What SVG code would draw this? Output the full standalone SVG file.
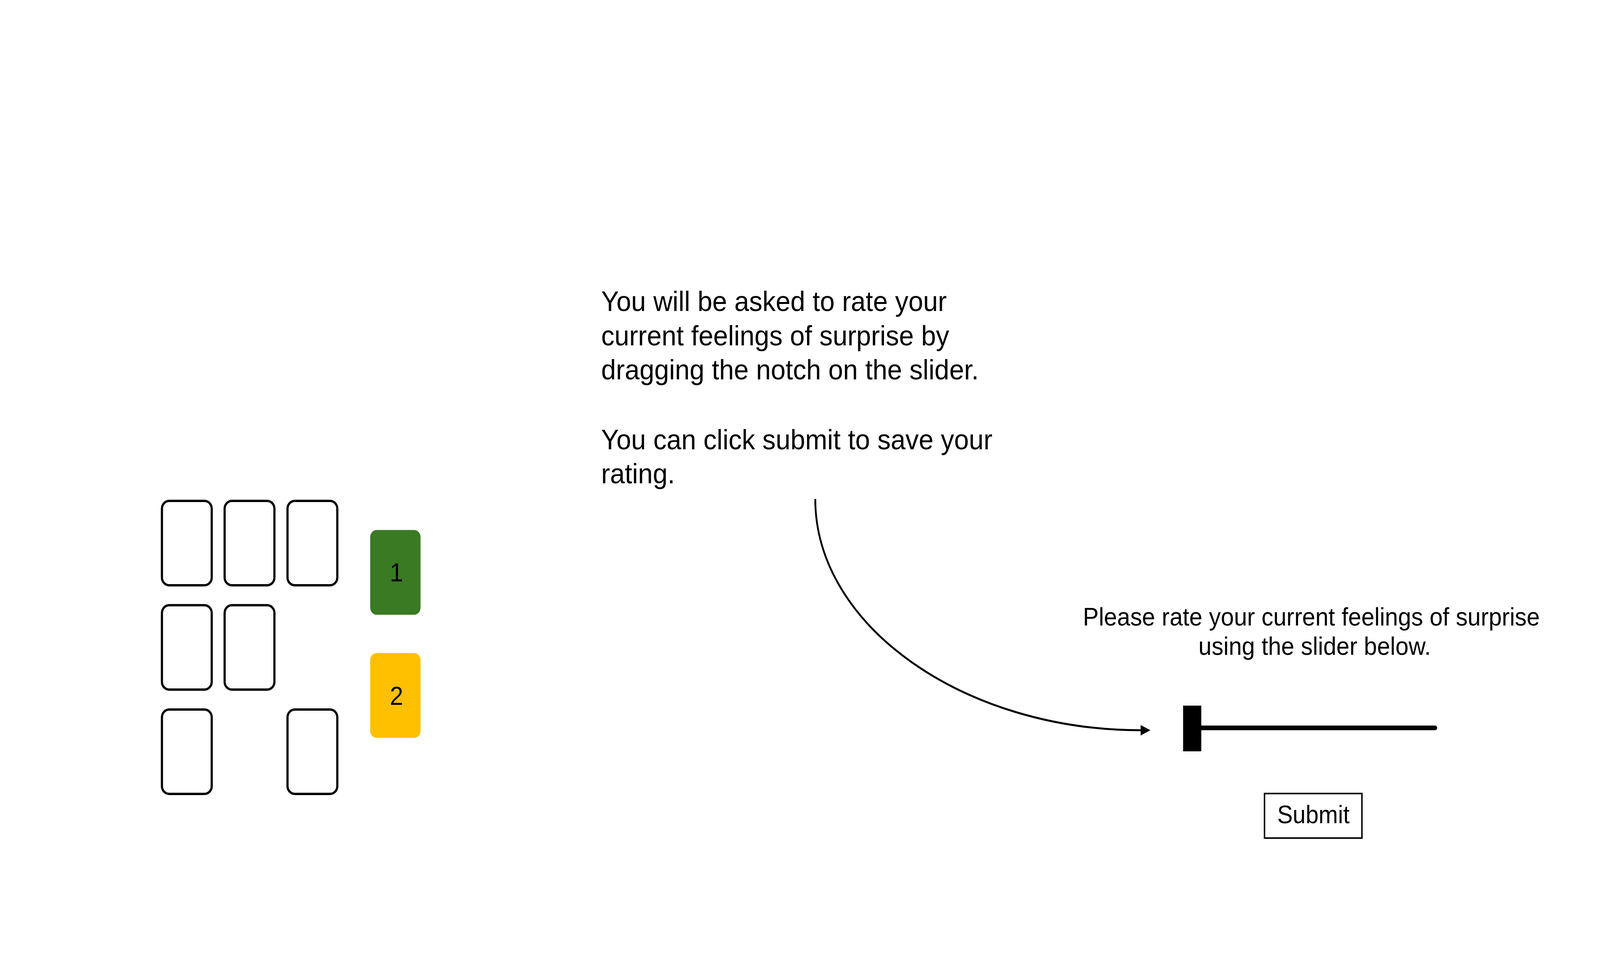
<svg xmlns="http://www.w3.org/2000/svg" width="4402" height="2475" viewBox="0 0 4402 2475" preserveAspectRatio="none" style="display:block;width:100vw;height:100vh">
  <style>
    .card { fill: #ffffff; stroke: #000000; stroke-width: 6; }
    .txt { font-family: "Liberation Sans", Arial, sans-serif; fill: #000000; }
    .main { font-size: 73px; }
    .num { font-size: 66px; text-anchor: middle; }
    .prompt { font-size: 65px; text-anchor: middle; }
    .btn { font-size: 64px; text-anchor: middle; }
    .conn { fill: none; stroke: #000000; stroke-width: 5; }
  </style>
  <defs>
    <marker id="arrow" markerUnits="userSpaceOnUse" markerWidth="28" markerHeight="28" refX="0" refY="13.5" orient="auto">
      <path d="M0,0 L27,13.5 L0,27 z" fill="#000000"/>
    </marker>
  </defs>
  <rect x="0" y="0" width="4402" height="2475" fill="#ffffff"/>

  <g id="cards">
    <rect id="card-r1c1" class="card" x="445.5" y="1282" width="137" height="216" rx="20"/>
    <rect id="card-r1c2" class="card" x="618" y="1282" width="137" height="216" rx="20"/>
    <rect id="card-r1c3" class="card" x="791" y="1282" width="137" height="216" rx="20"/>
    <rect id="card-r2c1" class="card" x="445.5" y="1549" width="137" height="216" rx="20"/>
    <rect id="card-r2c2" class="card" x="618" y="1549" width="137" height="216" rx="20"/>
    <rect id="card-r3c1" class="card" x="445.5" y="1816" width="137" height="216" rx="20"/>
    <rect id="card-r3c3" class="card" x="791" y="1816" width="137" height="216" rx="20"/>
  </g>

  <g id="card-1">
    <rect x="1018.5" y="1356.5" width="138.5" height="217" rx="18" fill="#3a7a22"/>
    <text class="txt num" x="1091" y="1488">1</text>
  </g>
  <g id="card-2">
    <rect x="1018.5" y="1671.5" width="138.5" height="217" rx="18" fill="#ffc000"/>
    <text class="txt num" x="1091" y="1804">2</text>
  </g>

  <g id="instructions">
    <text class="txt main">
      <tspan x="1654" y="796">You will be asked to rate your</tspan>
      <tspan x="1654" y="884">current feelings of surprise by</tspan>
      <tspan x="1654" y="971">dragging the notch on the slider.</tspan>
      <tspan x="1654" y="1150">You can click submit to save your</tspan>
      <tspan x="1654" y="1237">rating.</tspan>
    </text>
  </g>

  <g id="prompt">
    <text class="txt prompt">
      <tspan x="3617" y="1601">Please rate your current feelings of surprise</tspan>
      <tspan x="3617" y="1676">using the slider below.</tspan>
    </text>
  </g>

  <g id="slider">
    <line x1="3300" y1="1863" x2="3948" y2="1863" stroke="#000000" stroke-width="12" stroke-linecap="round"/>
    <rect x="3255" y="1806" width="50" height="117" fill="#000000"/>
  </g>

  <g id="submit">
    <rect x="3479" y="2031" width="268" height="114" fill="#ffffff" stroke="#000000" stroke-width="4"/>
    <text class="txt btn" x="3613.5" y="2107">Submit</text>
  </g>

  <g id="connectors">
    <path class="conn" d="M2243 1277 C2243 1604 2655 1869 3138 1869" marker-end="url(#arrow)"/>
  </g>
</svg>
